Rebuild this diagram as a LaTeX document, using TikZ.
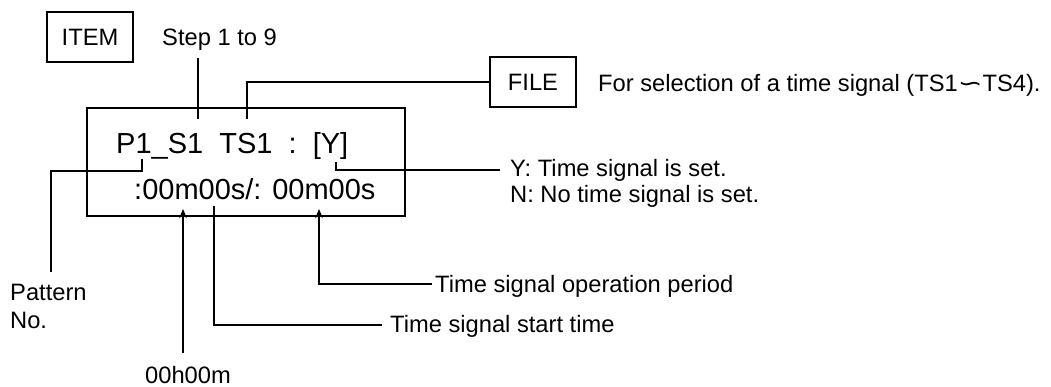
\documentclass[tikz,border=0pt]{standalone}
\usepackage{fontspec}
\setmainfont{Liberation Sans}
\newfontfamily\symfont{DejaVu Sans}
\usetikzlibrary{arrows.meta,calc}
\begin{document}
\begin{tikzpicture}[x=1pt,y=-1pt,
  lbl/.style={font=\fontsize{23.7}{28}\selectfont, inner sep=0pt},
  boxtxt/.style={font=\fontsize{29}{34}\selectfont, inner sep=0pt},
  frame/.style={draw, line width=1.6pt, inner sep=0pt},
  conn/.style={line width=1.6pt},
  arr/.style={line width=1.6pt, -{Stealth[length=9pt,width=7.5pt]}}]
\useasboundingbox (0,0) rectangle (1051,387);
% boxes
\node[frame, minimum width=86pt, minimum height=50pt] (item) at (90,37) {};
\node[lbl, anchor=base] (itemt) at (90,46) {ITEM};
\node[lbl, anchor=base west] (step) at (162,46) {Step 1 to 9};
\node[frame, minimum width=86pt, minimum height=50pt] (file) at (533,82) {};
\node[lbl, anchor=base] (filet) at (533,91) {FILE};
\node[lbl, anchor=base west] (filedesc) at (598,92) {For selection of a time signal (TS1{\symfont\scalebox{1.25}[1]{\char"223D}}TS4).};
\node[frame, minimum width=318pt, minimum height=108pt] (main) at (246,162) {};
\node[boxtxt, anchor=base west] (l1) at (116,154) {P1\_S1\ \ TS1\ \ :\ \ [Y]};
\node[boxtxt, anchor=base west] (l2) at (134,200) {:00m00s/: 00m00s};
% labels
\node[lbl, anchor=base west] (pat1) at (10,300) {Pattern};
\node[lbl, anchor=base west] (pat2) at (10,328) {No.};
\node[lbl, anchor=base west] (ys) at (510,177) {Y: Time signal is set.};
\node[lbl, anchor=base west] (ns) at (510,203) {N: No time signal is set.};
\node[lbl, anchor=base west] (op) at (435,292) {Time signal operation period};
\node[lbl, anchor=base west] (st) at (390,332) {Time signal start time};
\node[lbl, anchor=base] (hm) at (188,383) {00h00m};
% coordinates
\coordinate (s1) at (198,58);
\coordinate (s2) at (198,119);
\coordinate (f1) at (247,119);
\coordinate (f2) at (247,82);
\coordinate (p1) at (142,159);
\coordinate (p2) at (142,171);
\coordinate (p3) at (51,171);
\coordinate (p4) at (51,272);
\coordinate (y1) at (336,162);
\coordinate (y2) at (336,170);
\coordinate (h1) at (183,353);
\coordinate (h2) at (183,209);
\coordinate (t1) at (214,206);
\coordinate (t2) at (214,325);
\coordinate (o1) at (319,209);
\coordinate (o2) at (319,284);
% connectors
\draw[conn] (s1) -- (s2);
\draw[conn] (f1) -- (f2) -- (f2 -| file.west);
\draw[conn] (p1) -- (p2) -- (p3) -- (p4);
\draw[conn] (y1) -- (y2) -- ($(y2 -| ys.west)+(-10,0)$);
\draw[arr] (h1) -- (h2);
\draw[conn] (t1) -- (t2) -- ($(t2 -| st.west)+(-8,0)$);
\draw[arr] ($(o2 -| op.west)+(-3,0)$) -- (o2) -- (o1);
\end{tikzpicture}
\end{document}
